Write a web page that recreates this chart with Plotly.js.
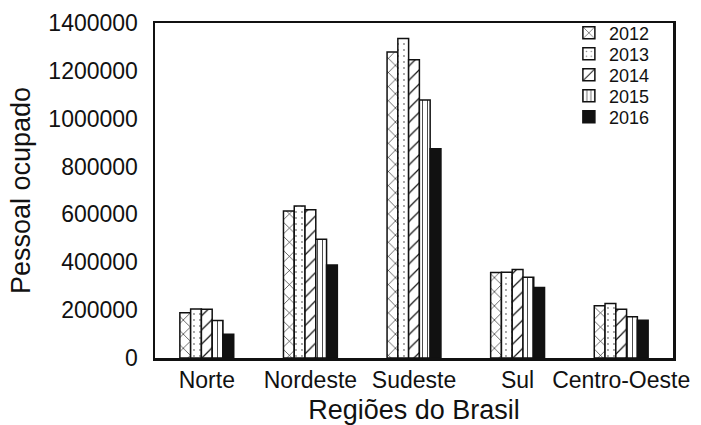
<!DOCTYPE html>
<html>
<head>
<meta charset="utf-8">
<script src="https://cdn.plot.ly/plotly-3.0.1.min.js"></script>
<style>
  html, body { margin: 0; padding: 0; background: #fff; }
  #chart { width: 701px; height: 425px; }
</style>
</head>
<body>
<div id="chart"></div>
<script>
// Regiões do Brasil
const regioes = ['Norte', 'Nordeste', 'Sudeste', 'Sul', 'Centro-Oeste'];
const anos = ['2012', '2013', '2014', '2015', '2016'];

// Pessoal ocupado por região e ano
const v2012 = [189000, 614000, 1279000, 357000, 218000];
const v2013 = [205000, 635000, 1335000, 358000, 228000];
const v2014 = [204000, 620000, 1246000, 370000, 204000];
const v2015 = [157000, 496000, 1078000, 337000, 172000];
const v2016 = [99000, 389000, 875000, 295000, 158000];

const yTicks = [0, 200000, 400000, 600000, 800000, 1000000, 1200000, 1400000];

const serie = [v2012, v2013, v2014, v2015, v2016];

// hatch fill for each year
const padroes = [
  { shape: 'x', fgcolor: '#111', bgcolor: '#fff', size: 10, solidity: 0.12 },
  { shape: '.', fgcolor: '#888', bgcolor: '#fff', size: 6, solidity: 0.08 },
  { shape: '/', fgcolor: '#111', bgcolor: '#fff', size: 10, solidity: 0.12 },
  { shape: '|', fgcolor: '#111', bgcolor: '#fff', size: 5, solidity: 0.15 },
  { shape: '', fgcolor: '#111', bgcolor: '#111', size: 8, solidity: 1 }
];

const legendIds = ['legend', 'legend2', 'legend3', 'legend4', 'legend5'];

const traces = anos.map((ano, i) => ({
  type: 'bar',
  name: ano,
  x: regioes,
  y: serie[i],
  legend: legendIds[i],
  marker: {
    color: i === 4 ? '#111' : '#fff',
    pattern: padroes[i],
    line: { color: '#111', width: 1.5 }
  },
  hoverinfo: 'x+y+name'
}));

const fonte = 'Liberation Sans, Arial, sans-serif';

const layout = {
  width: 701,
  height: 425,
  margin: { l: 155, r: 28, t: 23, b: 67 },
  paper_bgcolor: '#fff',
  plot_bgcolor: '#fff',
  font: { family: fonte, color: '#111' },
  barmode: 'group',
  bargap: 0.48,
  bargroupgap: 0,
  showlegend: true,
  xaxis: {
    showline: true, mirror: true, linecolor: '#111', linewidth: 2.5,
    showgrid: false, ticks: '', zeroline: false,
    tickfont: { size: 23, family: fonte, color: '#111' },
    title: { text: 'Regiões do Brasil', font: { size: 27, family: fonte, color: '#111' }, standoff: 24 }
  },
  yaxis: {
    range: [0, 1400000],
    tickvals: yTicks,
    tickformat: 'd',
    showline: true, mirror: true, linecolor: '#111', linewidth: 2.5,
    showgrid: false, ticks: '', zeroline: false,
    ticklabelstandoff: 10,
    tickfont: { size: 23, family: fonte, color: '#111' },
    title: { text: 'Pessoal ocupado', font: { size: 27, family: fonte, color: '#111' }, standoff: 10 }
  }
};

// one small legend per year, stacked closely at the top right
legendIds.forEach((id, i) => {
  layout[id] = {
    x: 0.799, xanchor: 'left',
    y: 1.025 - i * 0.0627, yanchor: 'top',
    bgcolor: 'rgba(0,0,0,0)',
    borderwidth: 0,
    font: { size: 18, family: fonte, color: '#111' }
  };
});

Plotly.newPlot('chart', traces, layout, { staticPlot: true });
</script>
</body>
</html>
